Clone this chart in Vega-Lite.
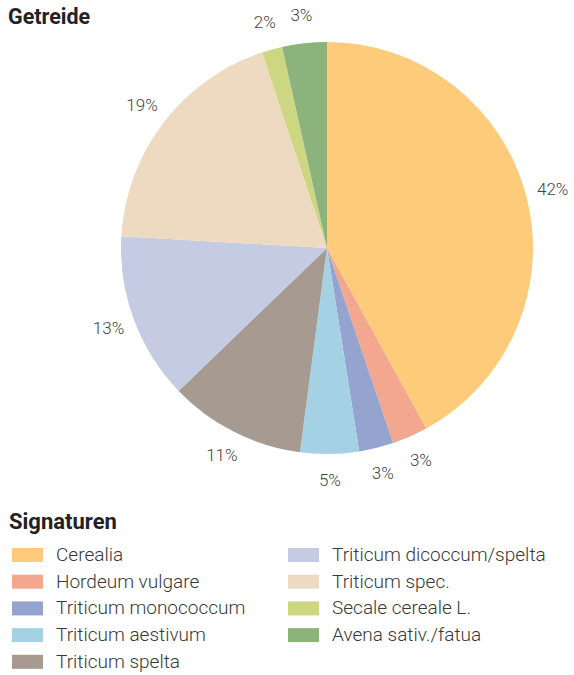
{
  "$schema": "https://vega.github.io/schema/vega-lite/v6.json",
  "autosize": "none",
  "width": 412,
  "height": 412,
  "padding": {"left": 121, "top": 42, "right": 41, "bottom": 221},
  "background": "white",
  "title": {
    "text": "Getreide",
    "anchor": "start",
    "frame": "group",
    "dx": -113,
    "dy": 25,
    "font": "Roboto",
    "fontSize": 21.5,
    "fontWeight": "bold",
    "color": "#222222"
  },
  "config": {
    "view": {"stroke": null},
    "font": "Roboto"
  },
  "data": {
    "values": [
      {"name": "Cerealia", "share": 42.0, "label": "42%", "rank": 1},
      {"name": "Hordeum vulgare", "share": 2.8, "label": "3%", "rank": 2},
      {"name": "Triticum monococcum", "share": 2.7, "label": "3%", "rank": 3},
      {"name": "Triticum aestivum", "share": 4.6, "label": "5%", "rank": 4},
      {"name": "Triticum spelta", "share": 10.7, "label": "11%", "rank": 5},
      {"name": "Triticum dicoccum/spelta", "share": 13.1, "label": "13%", "rank": 6},
      {"name": "Triticum spec.", "share": 19.0, "label": "19%", "rank": 7},
      {"name": "Secale cereale L.", "share": 1.6, "label": "2%", "rank": 8},
      {"name": "Avena sativ./fatua", "share": 3.5, "label": "3%", "rank": 9}
    ]
  },
  "encoding": {
    "theta": {"field": "share", "type": "quantitative", "stack": true},
    "order": {"field": "rank", "type": "quantitative"}
  },
  "layer": [
    {
      "mark": {"type": "arc", "outerRadius": 206},
      "encoding": {
        "color": {
          "field": "name",
          "type": "nominal",
          "scale": {
            "domain": ["Cerealia", "Hordeum vulgare", "Triticum monococcum", "Triticum aestivum", "Triticum spelta", "Triticum dicoccum/spelta", "Triticum spec.", "Secale cereale L.", "Avena sativ./fatua"],
            "range": ["#FDCB79", "#F3A78F", "#94A4CE", "#A4D1E4", "#A79A91", "#C4CBE3", "#EDDAC0", "#CDD781", "#8DB37C"]
          },
          "legend": {
            "title": "Signaturen",
            "orient": "none",
            "legendX": -112,
            "legendY": 470,
            "columns": 2,
            "columnPadding": 39,
            "rowPadding": 6.7,
            "titleFont": "Roboto",
            "titleFontSize": 22,
            "titleFontWeight": "bold",
            "titleColor": "#222222",
            "titlePadding": 11,
            "labelFont": "Roboto",
            "labelFontSize": 19,
            "labelFontWeight": 300,
            "labelColor": "#383838",
            "labelOffset": 27,
            "labelLimit": 400,
            "symbolType": "M-0.7,-0.7H2.4V0.7H-0.7Z",
            "symbolSize": 400,
            "symbolStrokeWidth": 0,
            "symbolOpacity": 1
          }
        }
      }
    },
    {
      "mark": {"type": "text", "radius": 233, "font": "Roboto", "fontSize": 17, "fontWeight": 300, "color": "#444444"},
      "encoding": {
        "text": {"field": "label", "type": "nominal"}
      }
    }
  ]
}
